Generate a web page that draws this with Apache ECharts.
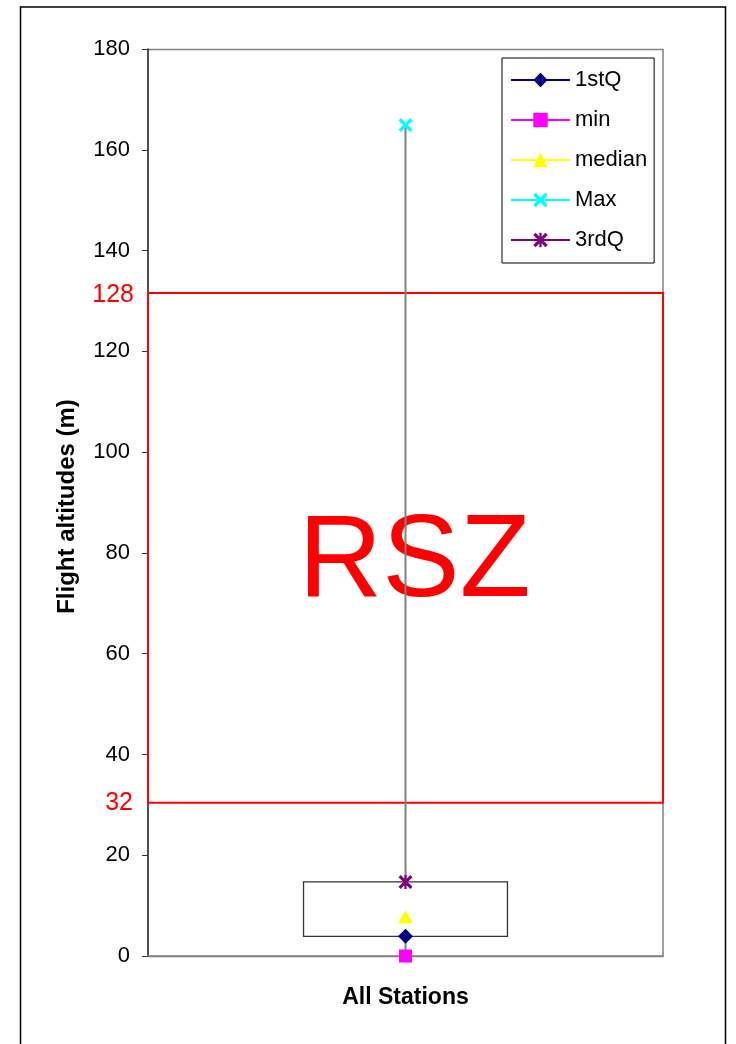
<!DOCTYPE html>
<html><head><meta charset="utf-8">
<script src="https://cdn.jsdelivr.net/npm/echarts@6/dist/echarts.min.js"></script>
<style>html,body{margin:0;padding:0;background:#fff}#c{width:736px;height:1044px}</style>
</head><body><div id="c"></div>
<script>
// ---- data ----
const categories = ['All Stations'];
const seriesNames = ['1stQ', 'min', 'median', 'Max', '3rdQ'];
const q1Values = [3.9];
const minValues = [0];
const medianValues = [7.8];
const maxValues = [164.9];
const q3Values = [14.7];
const yMin = 0, yMax = 180, yInterval = 20;
const rszBounds = [30.4, 131.6];      // edges of the drawn red rectangle
const rszLabels = ['32', '128'];      // labels written at those edges
const rszText = 'RSZ';
const yTitle = 'Flight altitudes (m)';

const FONT = "'Liberation Sans', Arial, sans-serif";
const xPath = 'path://M0,2.4 L2.4,0 L7,4.6 L11.6,0 L14,2.4 L9.4,7 L14,11.6 L11.6,14 L7,9.4 L2.4,14 L0,11.6 L4.6,7 Z';
const starPath = 'path://M0,2.2 L2.2,0 L7,4.8 L11.8,0 L14,2.2 L9.2,7 L14,11.8 L11.8,14 L7,9.2 L2.2,14 L0,11.8 L4.8,7 Z M5.9,0 L8.1,0 L8.1,14 L5.9,14 Z';

const chart = echarts.init(document.getElementById('c'), null, {renderer: 'canvas'});

function pointSeries(name, values, symbol, size, color) {
  return {
    name: name, type: 'line', data: values, symbol: symbol, symbolSize: size,
    showAllSymbol: true, z: 5,
    itemStyle: {color: color, borderWidth: 0},
    lineStyle: {color: color, width: 2},
    emphasis: {disabled: true}, silent: true
  };
}

const option = {
  animation: false,
  backgroundColor: '#fff',
  textStyle: {fontFamily: FONT},
  graphic: [{
    type: 'rect', shape: {x: 20.5, y: 7, width: 705, height: 1060},
    style: {fill: 'none', stroke: '#000', lineWidth: 1.5}, z: 0, silent: true
  }, {
    type: 'rect', shape: {x: 148, y: 49.5, width: 515, height: 907},
    style: {fill: 'none', stroke: '#808080', lineWidth: 1.5}, z: 0, silent: true
  }],
  grid: {left: 148, right: 73, top: 49, bottom: 88, containLabel: false},
  legend: {
    orient: 'vertical', left: 502, top: 58,
    data: seriesNames,
    borderColor: '#000', borderWidth: 1, backgroundColor: '#fff',
    padding: [11, 7, 12, 8],
    itemWidth: 59, itemHeight: 18, itemGap: 18,
    lineStyle: {width: 2},
    textStyle: {fontSize: 22, lineHeight: 22, color: '#000', fontFamily: FONT},
    selectedMode: false
  },
  xAxis: {
    type: 'category', data: categories, boundaryGap: true,
    axisLine: {lineStyle: {color: '#808080', width: 1.5}},
    axisTick: {show: false},
    axisLabel: {fontSize: 23, fontWeight: 'bold', color: '#000', margin: 30, fontFamily: FONT},
    splitLine: {show: false}
  },
  yAxis: {
    type: 'value', min: yMin, max: yMax, interval: yInterval,
    name: yTitle, nameLocation: 'middle', nameRotate: 90, nameGap: 69,
    nameTextStyle: {fontSize: 24, fontWeight: 'bold', color: '#000', fontFamily: FONT, padding: [0, 8, 0, 0]},
    axisLine: {show: true, lineStyle: {color: '#333', width: 1.5}},
    axisTick: {show: true, length: 6, lineStyle: {color: '#333', width: 1}},
    axisLabel: {fontSize: 22, color: '#000', margin: 18, fontFamily: FONT},
    splitLine: {show: false}
  },
  series: [
    {
      name: 'RSZ', type: 'custom', z: 1, silent: true, clip: false,
      data: [[0, rszBounds[0], rszBounds[1]]],
      encode: {x: 0, y: [1, 2]},
      renderItem: function (params, api) {
        const cs = params.coordSys;
        const yb = api.coord([0, api.value(1)])[1];
        const yt = api.coord([0, api.value(2)])[1];
        return {type: 'group', children: [
          {type: 'rect', shape: {x: cs.x, y: yt, width: cs.width, height: yb - yt},
           style: {fill: 'none', stroke: '#ff0000', lineWidth: 2}},
          {type: 'text', style: {text: rszText, x: cs.x + cs.width / 2 + 9, y: (yt + yb) / 2 + 16,
            fill: '#ff0000', font: '116px ' + FONT, align: 'center', verticalAlign: 'middle'}},
          {type: 'text', style: {text: rszLabels[1], x: cs.x - 14, y: yt + 2,
            fill: '#ff0000', font: '25px ' + FONT, align: 'right', verticalAlign: 'middle'}},
          {type: 'text', style: {text: rszLabels[0], x: cs.x - 15, y: yb,
            fill: '#ff0000', font: '25px ' + FONT, align: 'right', verticalAlign: 'middle'}}
        ]};
      }
    },
    {
      name: 'whisker', type: 'custom', z: 2, silent: true, clip: false,
      data: [[0, minValues[0], q1Values[0], q3Values[0], maxValues[0]]],
      encode: {x: 0, y: [1, 2, 3, 4]},
      renderItem: function (params, api) {
        const x = api.coord([api.value(0), 0])[0];
        const yLo = api.coord([0, api.value(1)])[1];
        const yQ1 = api.coord([0, api.value(2)])[1];
        const yQ3 = api.coord([0, api.value(3)])[1];
        const yHi = api.coord([0, api.value(4)])[1];
        const bw = api.size([1, 0])[0] * 0.396;
        return {type: 'group', children: [
          {type: 'line', shape: {x1: x, y1: yHi, x2: x, y2: yLo},
           style: {stroke: '#808080', lineWidth: 2}},
          {type: 'rect', shape: {x: x - bw / 2, y: yQ3, width: bw, height: yQ1 - yQ3},
           style: {fill: '#fff', stroke: '#333', lineWidth: 1.3}}
        ]};
      }
    },
    pointSeries('1stQ', q1Values, 'diamond', [15, 15], '#000080'),
    pointSeries('min', minValues, 'rect', [13, 13], '#ff00ff'),
    pointSeries('median', medianValues, 'triangle', [15, 13], '#ffff00'),
    pointSeries('Max', maxValues, xPath, [14, 14], '#00ffff'),
    pointSeries('3rdQ', q3Values, starPath, [14, 14], '#800080')
  ]
};
chart.setOption(option);
</script>
</body></html>
